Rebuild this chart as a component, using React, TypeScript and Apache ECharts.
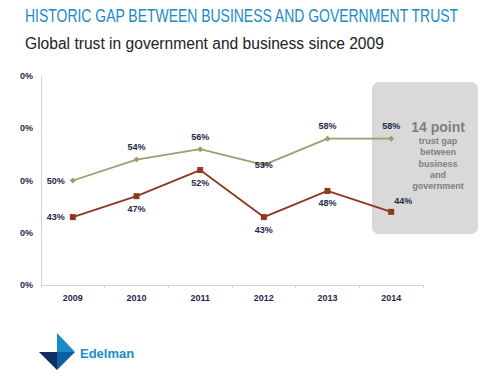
import React, { useEffect, useRef } from "react";
import * as echarts from "echarts";

const years = ["2009", "2010", "2011", "2012", "2013", "2014"];
const government = [50, 54, 56, 53, 58, 58];
const business = [43, 47, 52, 43, 48, 44];
const govLabelPos = ["left", "top", "top", "inside", "top", "top"];
const bizLabelPos = ["left", "bottom", "bottom", "bottom", "bottom", "top"];
const title = "HISTORIC GAP BETWEEN BUSINESS AND GOVERNMENT TRUST";
const subtitle = "Global trust in government and business since 2009";
const gapTitle = "14 point";
const gapText = "trust gap\nbetween\nbusiness\nand\ngovernment";

export default function App() {
  const ref = useRef<HTMLDivElement>(null);
  useEffect(() => {
    const chart = echarts.init(ref.current!, null, { renderer: "svg" });
    const labelStyle = {
      show: true,
      color: "#1f2a4a",
      fontSize: 9,
      fontWeight: "bold",
      fontFamily: "Liberation Sans",
      formatter: "{c}%",
    };
    chart.setOption({
      animation: false,
      backgroundColor: "#ffffff",
      grid: { left: 41, right: 77, top: 76, bottom: 92 },
      xAxis: {
        type: "category",
        data: years,
        boundaryGap: true,
        axisLine: { lineStyle: { color: "#d6d6d6", width: 1 } },
        axisTick: { show: true, length: 3, lineStyle: { color: "#d6d6d6" } },
        axisLabel: {
          color: "#1f2a4a",
          fontSize: 9,
          fontWeight: "bold",
          fontFamily: "Liberation Sans",
          margin: 8,
        },
        splitLine: { show: false },
      },
      yAxis: {
        type: "value",
        min: 30,
        max: 70,
        interval: 10,
        axisLine: { show: true, lineStyle: { color: "#d6d6d6", width: 1 } },
        axisTick: { show: false },
        splitLine: { show: false },
        axisLabel: {
          formatter: () => "0%",
          color: "#1f2a4a",
          fontSize: 9,
          fontWeight: "bold",
          fontFamily: "Liberation Sans",
          margin: 8,
        },
      },
      graphic: [
        {
          type: "text",
          x: 25,
          y: 16,
          scaleX: 0.735,
          style: {
            text: title,
            fill: "#1b8bc8",
            fontSize: 19,
            fontFamily: "Liberation Sans",
            verticalAlign: "middle",
          },
        },
        {
          type: "text",
          x: 25,
          y: 43,
          style: {
            text: subtitle,
            fill: "#222222",
            fontSize: 15.6,
            fontFamily: "Liberation Sans",
            verticalAlign: "middle",
          },
        },
        {
          type: "rect",
          shape: { x: 372, y: 82, width: 106, height: 152, r: 7 },
          style: { fill: "#d9d9d9" },
          z: -1,
        },
        {
          type: "text",
          x: 438,
          y: 127,
          style: {
            text: gapTitle,
            fill: "#7f7f7f",
            fontSize: 14,
            fontWeight: "bold",
            fontFamily: "Liberation Sans",
            align: "center",
            verticalAlign: "middle",
          },
        },
        {
          type: "text",
          x: 438,
          y: 135.5,
          style: {
            text: gapText,
            fill: "#7f7f7f",
            fontSize: 9,
            fontWeight: "bold",
            fontFamily: "Liberation Sans",
            align: "center",
            verticalAlign: "top",
            lineHeight: 11.2,
          },
        },
        {
          type: "polygon",
          shape: { points: [[57, 333], [75, 352], [57, 352]] },
          style: { fill: "#1b8bc8" },
        },
        {
          type: "polygon",
          shape: { points: [[39, 352], [57, 352], [57, 370]] },
          style: { fill: "#0f2d5e" },
        },
        {
          type: "polygon",
          shape: { points: [[57, 352], [75, 352], [57, 370]] },
          style: { fill: "#0d5ea6" },
        },
        {
          type: "text",
          x: 80,
          y: 353,
          style: {
            text: "Edelman",
            fill: "#1b8bc8",
            fontSize: 13,
            fontWeight: "bold",
            fontFamily: "Liberation Sans",
            verticalAlign: "middle",
          },
        },
      ],
      series: [
        {
          name: "Government",
          type: "line",
          data: government.map((v, i) => ({
            value: v,
            label: { position: govLabelPos[i] },
          })),
          symbol: "diamond",
          symbolSize: 6,
          itemStyle: { color: "#a09c6c" },
          lineStyle: { color: "#a09c6c", width: 1.8 },
          label: labelStyle,
        },
        {
          name: "Business",
          type: "line",
          data: business.map((v, i) => ({
            value: v,
            label:
              i === business.length - 1
                ? { position: bizLabelPos[i], offset: [12, 2] }
                : { position: bizLabelPos[i] },
          })),
          symbol: "rect",
          symbolSize: 6,
          itemStyle: { color: "#8c3a1e" },
          lineStyle: { color: "#8c3a1e", width: 1.8 },
          label: labelStyle,
        },
      ],
    });
    return () => chart.dispose();
  }, []);
  return <div ref={ref} style={{ width: 500, height: 377, position: "absolute", left: 0, top: 0 }} />;
}
